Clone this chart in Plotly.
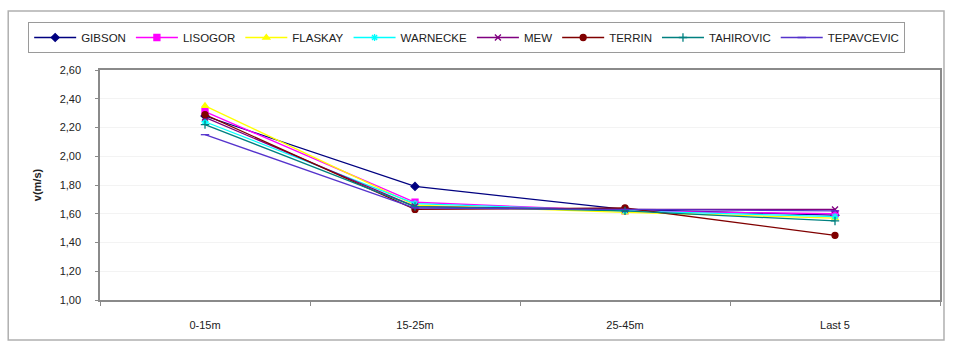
import plotly.graph_objects as go

# Sprint segments
segments = ["0-15m", "15-25m", "25-45m", "Last 5"]

# Average velocity per segment, m/s
gibson = [2.28, 1.79, 1.63, 1.59]
lisogor = [2.31, 1.68, 1.62, 1.60]
flaskay = [2.35, 1.66, 1.61, 1.57]
warnecke = [2.24, 1.67, 1.62, 1.58]
mew = [2.27, 1.65, 1.63, 1.63]
terrin = [2.29, 1.63, 1.64, 1.45]
tahirovic = [2.22, 1.65, 1.62, 1.55]
tepavcevic = [2.15, 1.64, 1.63, 1.62]

series = [
    ("GIBSON", gibson, "#000080", "diamond"),
    ("LISOGOR", lisogor, "#FF00FF", "square"),
    ("FLASKAY", flaskay, "#FFFF00", "triangle-up"),
    ("WARNECKE", warnecke, "#00FFFF", "asterisk-open"),
    ("MEW", mew, "#800080", "x-thin-open"),
    ("TERRIN", terrin, "#800000", "circle"),
    ("TAHIROVIC", tahirovic, "#008080", "cross-thin-open"),
    ("TEPAVCEVIC", tepavcevic, "#5533CC", "line-ew-open"),
]

FONT = "Liberation Sans Narrow, Arial Narrow, Liberation Sans, Arial, sans-serif"

fig = go.Figure()
for name, vals, color, symbol in series:
    fig.add_trace(go.Scatter(
        x=segments, y=vals, name=name, mode="lines+markers",
        line=dict(color=color, width=1.3),
        marker=dict(symbol=symbol, size=6, color=color,
                    line=dict(color=color, width=1.3)),
    ))

W, H = 953, 347
L, R, T, B = 100, 942, 70, 300
pw, ph = R - L, B - T

def px(x):
    return (x - L) / pw

def py(y):
    return (B - y) / ph

fig.update_layout(
    width=W, height=H,
    margin=dict(l=L, r=W - R, t=T, b=H - B),
    paper_bgcolor="white", plot_bgcolor="white",
    separators=",.",
    font=dict(family=FONT, size=11, color="#222"),
    showlegend=True,
    legend=dict(
        orientation="h", x=px(28), y=py(22), xanchor="left", yanchor="top",
        bordercolor="#9a9a9a", borderwidth=1, bgcolor="white",
        font=dict(family=FONT, size=11.5, color="#222"),
        itemwidth=42, tracegroupgap=0,
    ),
    xaxis=dict(
        type="category", range=[-0.5, 3.5],
        showline=True, linecolor="#8a8a8a", linewidth=1.5, mirror=True,
        ticks="outside", ticklen=4, tickcolor="#8a8a8a", tickson="boundaries",
        showgrid=False, ticklabelstandoff=14,
        tickfont=dict(family=FONT, size=11, color="#222"),
    ),
    yaxis=dict(
        range=[1.0, 2.6], dtick=0.2, tickformat=".2f",
        showline=True, linecolor="#8a8a8a", linewidth=1.5, mirror=True,
        ticks="outside", ticklen=3, tickcolor="#8a8a8a",
        showgrid=True, gridcolor="#f3f3f3", zeroline=False,
        ticklabelstandoff=12,
        tickfont=dict(family=FONT, size=11, color="#222"),
        title=dict(text="<b>v(m/s)</b>", standoff=16,
                   font=dict(family=FONT, size=11, color="#222")),
    ),
    shapes=[dict(
        type="rect", xref="paper", yref="paper",
        x0=px(8), x1=px(946), y0=py(340), y1=py(11),
        line=dict(color="#b0b0b0", width=1.5), layer="below",
    )],
)

fig.write_html("out.html")
